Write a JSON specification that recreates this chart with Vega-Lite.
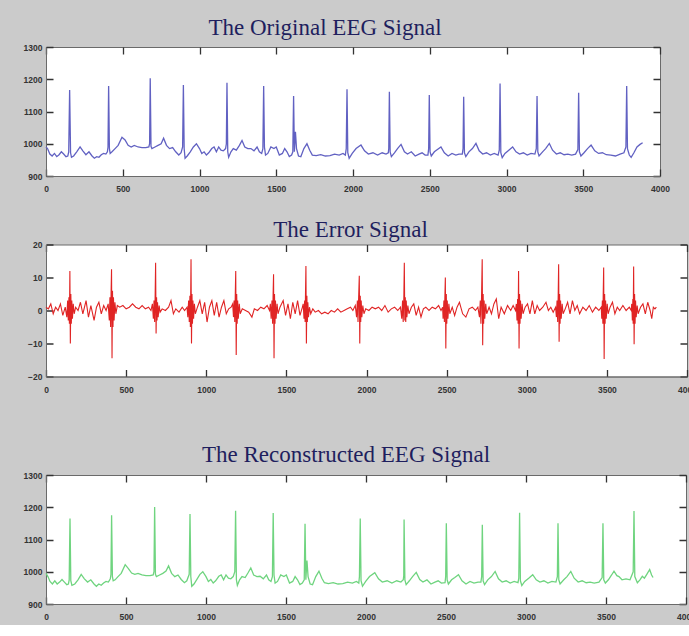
{
  "$schema": "https://vega.github.io/schema/vega-lite/v6.json",
  "background": "#cbcbcb",
  "padding": {"left": 18, "top": 16, "right": 0, "bottom": 0},
  "spacing": 20.5,
  "datasets": {
    "orig": [
      {"x":0,"y":990},{"x":10,"y":985},{"x":25,"y":968},{"x":40,"y":962},{"x":55,"y":970},{"x":70,"y":960},{"x":85,"y":966},{"x":100,"y":975},{"x":115,"y":968},{"x":130,"y":960},{"x":142,"y":962},{"x":148,"y":975},{"x":154,"y":1167},{"x":160,"y":972},{"x":166,"y":958},{"x":180,"y":962},{"x":200,"y":975},{"x":222,"y":990},{"x":240,"y":978},{"x":260,"y":966},{"x":280,"y":975},{"x":300,"y":962},{"x":315,"y":955},{"x":330,"y":960},{"x":345,"y":958},{"x":360,"y":966},{"x":375,"y":970},{"x":390,"y":968},{"x":400,"y":975},{"x":404,"y":990},{"x":408,"y":1179},{"x":413,"y":985},{"x":418,"y":970},{"x":430,"y":975},{"x":450,"y":985},{"x":470,"y":995},{"x":495,"y":1020},{"x":515,"y":1012},{"x":535,"y":995},{"x":555,"y":990},{"x":575,"y":995},{"x":600,"y":990},{"x":625,"y":988},{"x":650,"y":988},{"x":670,"y":990},{"x":675,"y":1000},{"x":679,"y":1203},{"x":684,"y":992},{"x":690,"y":985},{"x":710,"y":990},{"x":730,"y":995},{"x":750,"y":1000},{"x":766,"y":1017},{"x":785,"y":995},{"x":805,"y":985},{"x":825,"y":988},{"x":845,"y":975},{"x":865,"y":965},{"x":880,"y":972},{"x":890,"y":990},{"x":895,"y":1182},{"x":900,"y":985},{"x":906,"y":955},{"x":920,"y":962},{"x":940,"y":975},{"x":960,"y":990},{"x":980,"y":1000},{"x":1000,"y":985},{"x":1015,"y":970},{"x":1030,"y":975},{"x":1045,"y":965},{"x":1060,"y":972},{"x":1080,"y":985},{"x":1095,"y":990},{"x":1110,"y":975},{"x":1125,"y":990},{"x":1140,"y":980},{"x":1155,"y":978},{"x":1170,"y":985},{"x":1175,"y":1000},{"x":1179,"y":1189},{"x":1184,"y":975},{"x":1190,"y":958},{"x":1205,"y":975},{"x":1220,"y":985},{"x":1240,"y":980},{"x":1260,"y":995},{"x":1277,"y":1010},{"x":1295,"y":990},{"x":1315,"y":985},{"x":1335,"y":985},{"x":1355,"y":978},{"x":1375,"y":990},{"x":1390,"y":975},{"x":1405,"y":970},{"x":1413,"y":985},{"x":1418,"y":1179},{"x":1423,"y":990},{"x":1430,"y":965},{"x":1445,"y":970},{"x":1465,"y":990},{"x":1485,"y":985},{"x":1500,"y":990},{"x":1520,"y":965},{"x":1540,"y":970},{"x":1555,"y":985},{"x":1570,"y":975},{"x":1585,"y":960},{"x":1600,"y":965},{"x":1608,"y":975},{"x":1613,"y":1148},{"x":1618,"y":975},{"x":1625,"y":1037},{"x":1632,"y":985},{"x":1645,"y":962},{"x":1660,"y":960},{"x":1680,"y":985},{"x":1700,"y":1000},{"x":1718,"y":980},{"x":1735,"y":965},{"x":1760,"y":963},{"x":1790,"y":966},{"x":1820,"y":962},{"x":1850,"y":963},{"x":1880,"y":968},{"x":1910,"y":965},{"x":1935,"y":970},{"x":1950,"y":965},{"x":1956,"y":985},{"x":1961,"y":1169},{"x":1966,"y":972},{"x":1975,"y":955},{"x":1995,"y":970},{"x":2020,"y":985},{"x":2052,"y":996},{"x":2075,"y":978},{"x":2100,"y":968},{"x":2130,"y":972},{"x":2160,"y":965},{"x":2190,"y":972},{"x":2215,"y":968},{"x":2230,"y":972},{"x":2233,"y":985},{"x":2237,"y":1161},{"x":2242,"y":975},{"x":2250,"y":960},{"x":2270,"y":972},{"x":2290,"y":985},{"x":2313,"y":998},{"x":2335,"y":975},{"x":2355,"y":968},{"x":2380,"y":975},{"x":2405,"y":962},{"x":2430,"y":968},{"x":2450,"y":972},{"x":2470,"y":965},{"x":2488,"y":965},{"x":2493,"y":985},{"x":2497,"y":1151},{"x":2502,"y":975},{"x":2510,"y":962},{"x":2530,"y":975},{"x":2550,"y":982},{"x":2573,"y":990},{"x":2595,"y":972},{"x":2620,"y":962},{"x":2645,"y":970},{"x":2670,"y":965},{"x":2690,"y":968},{"x":2712,"y":968},{"x":2717,"y":985},{"x":2721,"y":1146},{"x":2726,"y":972},{"x":2735,"y":960},{"x":2755,"y":975},{"x":2778,"y":985},{"x":2801,"y":1001},{"x":2822,"y":978},{"x":2845,"y":968},{"x":2870,"y":972},{"x":2895,"y":965},{"x":2920,"y":970},{"x":2945,"y":965},{"x":2953,"y":980},{"x":2958,"y":1187},{"x":2963,"y":972},{"x":2972,"y":957},{"x":2990,"y":970},{"x":3015,"y":980},{"x":3040,"y":990},{"x":3062,"y":975},{"x":3085,"y":968},{"x":3110,"y":972},{"x":3135,"y":965},{"x":3160,"y":970},{"x":3185,"y":968},{"x":3194,"y":985},{"x":3199,"y":1148},{"x":3204,"y":975},{"x":3212,"y":962},{"x":3235,"y":975},{"x":3255,"y":985},{"x":3279,"y":1001},{"x":3300,"y":980},{"x":3325,"y":968},{"x":3350,"y":972},{"x":3375,"y":966},{"x":3400,"y":968},{"x":3425,"y":965},{"x":3450,"y":968},{"x":3465,"y":982},{"x":3470,"y":1158},{"x":3475,"y":975},{"x":3485,"y":962},{"x":3505,"y":972},{"x":3528,"y":985},{"x":3551,"y":996},{"x":3575,"y":978},{"x":3600,"y":970},{"x":3625,"y":972},{"x":3650,"y":966},{"x":3680,"y":965},{"x":3710,"y":962},{"x":3740,"y":968},{"x":3765,"y":972},{"x":3778,"y":990},{"x":3783,"y":1179},{"x":3788,"y":985},{"x":3800,"y":965},{"x":3812,"y":958},{"x":3830,"y":972},{"x":3850,"y":990},{"x":3870,"y":998},{"x":3887,"y":1003}
    ],
    "err": [
      {"x":0,"y":1},{"x":15,"y":0.5},{"x":30,"y":2},{"x":45,"y":-1},{"x":60,"y":1},{"x":75,"y":0},{"x":90,"y":2},{"x":105,"y":-1.5},{"x":120,"y":1},{"x":130,"y":-2},{"x":135,"y":3},{"x":139,"y":-3},{"x":143,"y":4},{"x":146,"y":-4},{"x":149,"y":12},{"x":152,"y":-10},{"x":155,"y":5},{"x":158,"y":-4},{"x":161,"y":3},{"x":165,"y":-2.5},{"x":170,"y":2},{"x":176,"y":-1},{"x":185,"y":1},{"x":200,"y":0},{"x":215,"y":2.5},{"x":230,"y":-1},{"x":250,"y":3},{"x":265,"y":-2},{"x":280,"y":1.5},{"x":300,"y":-3},{"x":315,"y":1},{"x":330,"y":2.5},{"x":345,"y":-1},{"x":360,"y":1.5},{"x":375,"y":0},{"x":388,"y":2},{"x":395,"y":-3},{"x":399,"y":4},{"x":403,"y":-5},{"x":406,"y":5},{"x":409,"y":12.5},{"x":412,"y":-14.5},{"x":415,"y":6},{"x":418,"y":-5},{"x":421,"y":4},{"x":425,"y":-3},{"x":430,"y":2.5},{"x":436,"y":-1},{"x":445,"y":1.5},{"x":460,"y":1},{"x":480,"y":1.5},{"x":500,"y":0.5},{"x":520,"y":1},{"x":540,"y":2},{"x":560,"y":1},{"x":580,"y":0.5},{"x":600,"y":1.5},{"x":620,"y":0.5},{"x":640,"y":1},{"x":655,"y":0},{"x":664,"y":2},{"x":670,"y":-2.5},{"x":674,"y":3},{"x":678,"y":-3.5},{"x":681,"y":4},{"x":684,"y":14.5},{"x":687,"y":-7},{"x":690,"y":4},{"x":693,"y":-3},{"x":696,"y":2.5},{"x":700,"y":-2},{"x":706,"y":1.5},{"x":712,"y":-0.5},{"x":725,"y":0.5},{"x":745,"y":0},{"x":765,"y":1},{"x":780,"y":3},{"x":795,"y":-1},{"x":810,"y":0.5},{"x":830,"y":-0.5},{"x":850,"y":1},{"x":865,"y":0},{"x":880,"y":1},{"x":885,"y":-2},{"x":890,"y":3},{"x":894,"y":-3.5},{"x":898,"y":4.5},{"x":901,"y":-5},{"x":905,"y":15.5},{"x":908,"y":-10},{"x":911,"y":5},{"x":914,"y":-4},{"x":917,"y":3},{"x":921,"y":-2.5},{"x":926,"y":2},{"x":932,"y":-1},{"x":945,"y":1},{"x":960,"y":3},{"x":975,"y":-1},{"x":990,"y":2.5},{"x":1005,"y":-3.5},{"x":1020,"y":1},{"x":1035,"y":3},{"x":1050,"y":-1.5},{"x":1065,"y":2.5},{"x":1080,"y":-2},{"x":1095,"y":1},{"x":1110,"y":3},{"x":1125,"y":-1},{"x":1140,"y":0.5},{"x":1155,"y":1},{"x":1165,"y":2},{"x":1170,"y":-2},{"x":1174,"y":3},{"x":1178,"y":-3.5},{"x":1181,"y":4.5},{"x":1184,"y":12},{"x":1187,"y":-13.5},{"x":1190,"y":5},{"x":1193,"y":-4},{"x":1196,"y":3},{"x":1200,"y":-2.5},{"x":1206,"y":2},{"x":1212,"y":-1},{"x":1225,"y":0.5},{"x":1245,"y":0},{"x":1265,"y":-0.5},{"x":1285,"y":-2},{"x":1300,"y":0.5},{"x":1320,"y":0},{"x":1340,"y":1},{"x":1360,"y":0.5},{"x":1380,"y":1.5},{"x":1395,"y":0},{"x":1400,"y":2},{"x":1405,"y":-2.5},{"x":1410,"y":3},{"x":1414,"y":-4},{"x":1417,"y":4.5},{"x":1420,"y":11},{"x":1423,"y":-14.5},{"x":1426,"y":5},{"x":1429,"y":-4},{"x":1432,"y":3},{"x":1436,"y":-2.5},{"x":1442,"y":2},{"x":1448,"y":-1},{"x":1460,"y":1},{"x":1480,"y":3},{"x":1495,"y":-1.5},{"x":1510,"y":2},{"x":1525,"y":-2.5},{"x":1540,"y":2.5},{"x":1555,"y":-1},{"x":1570,"y":3},{"x":1585,"y":-1.5},{"x":1600,"y":1},{"x":1605,"y":2},{"x":1610,"y":-2.5},{"x":1614,"y":3},{"x":1617,"y":-3.5},{"x":1619,"y":4},{"x":1622,"y":13.5},{"x":1625,"y":-10},{"x":1628,"y":4.5},{"x":1631,"y":-3.5},{"x":1634,"y":2.5},{"x":1638,"y":-2},{"x":1644,"y":1},{"x":1652,"y":-1},{"x":1665,"y":0.5},{"x":1680,"y":-0.5},{"x":1700,"y":0},{"x":1720,"y":-1},{"x":1740,"y":-0.5},{"x":1760,"y":-1},{"x":1780,"y":0},{"x":1800,"y":-0.5},{"x":1820,"y":0.5},{"x":1840,"y":-0.5},{"x":1860,"y":0},{"x":1880,"y":0.5},{"x":1900,"y":1},{"x":1915,"y":0},{"x":1930,"y":1.5},{"x":1938,"y":-2},{"x":1943,"y":3},{"x":1947,"y":-3.5},{"x":1951,"y":4},{"x":1955,"y":10.5},{"x":1958,"y":-10},{"x":1961,"y":4.5},{"x":1964,"y":-3.5},{"x":1967,"y":3},{"x":1971,"y":-2},{"x":1977,"y":1.5},{"x":1984,"y":-1},{"x":1995,"y":0.5},{"x":2015,"y":0},{"x":2035,"y":1},{"x":2055,"y":0.5},{"x":2075,"y":1},{"x":2095,"y":0},{"x":2115,"y":1.5},{"x":2135,"y":-0.5},{"x":2155,"y":0.5},{"x":2175,"y":1},{"x":2195,"y":0},{"x":2212,"y":1},{"x":2220,"y":-2.5},{"x":2225,"y":3},{"x":2229,"y":-3.5},{"x":2233,"y":4},{"x":2236,"y":14.5},{"x":2239,"y":-3},{"x":2242,"y":4},{"x":2245,"y":-3.5},{"x":2248,"y":3},{"x":2252,"y":-2},{"x":2258,"y":1.5},{"x":2265,"y":-1},{"x":2280,"y":1},{"x":2295,"y":2},{"x":2310,"y":-1.5},{"x":2325,"y":1},{"x":2340,"y":-2},{"x":2355,"y":0.5},{"x":2370,"y":1},{"x":2390,"y":0},{"x":2410,"y":1},{"x":2430,"y":0.5},{"x":2450,"y":1.5},{"x":2465,"y":0},{"x":2475,"y":1},{"x":2478,"y":-2.5},{"x":2483,"y":3},{"x":2486,"y":-3.5},{"x":2489,"y":4},{"x":2492,"y":10},{"x":2495,"y":-11.5},{"x":2498,"y":5},{"x":2501,"y":-4},{"x":2504,"y":3},{"x":2508,"y":-2.5},{"x":2514,"y":2},{"x":2520,"y":-1},{"x":2535,"y":1},{"x":2550,"y":-1.5},{"x":2565,"y":1},{"x":2580,"y":2.5},{"x":2600,"y":-1},{"x":2620,"y":-2},{"x":2640,"y":0.5},{"x":2660,"y":1},{"x":2680,"y":0},{"x":2695,"y":1},{"x":2705,"y":-2},{"x":2710,"y":3},{"x":2714,"y":-4},{"x":2718,"y":4.5},{"x":2722,"y":15.5},{"x":2725,"y":-10.5},{"x":2728,"y":5},{"x":2731,"y":-4},{"x":2734,"y":3},{"x":2738,"y":-2.5},{"x":2744,"y":2},{"x":2750,"y":-1},{"x":2765,"y":1},{"x":2780,"y":-1},{"x":2795,"y":2},{"x":2810,"y":3.5},{"x":2825,"y":-2.5},{"x":2840,"y":1},{"x":2860,"y":-1},{"x":2880,"y":1.5},{"x":2900,"y":0},{"x":2915,"y":1.5},{"x":2930,"y":0},{"x":2935,"y":2},{"x":2939,"y":-3},{"x":2943,"y":3.5},{"x":2946,"y":-4},{"x":2949,"y":12},{"x":2952,"y":-11.5},{"x":2955,"y":5},{"x":2958,"y":-4},{"x":2961,"y":3},{"x":2965,"y":-2.5},{"x":2971,"y":2},{"x":2977,"y":-1},{"x":2990,"y":1},{"x":3005,"y":2},{"x":3020,"y":-1},{"x":3035,"y":3},{"x":3050,"y":-1},{"x":3065,"y":1.5},{"x":3080,"y":0},{"x":3100,"y":1},{"x":3120,"y":2.5},{"x":3135,"y":0},{"x":3150,"y":1},{"x":3165,"y":-0.5},{"x":3180,"y":1},{"x":3185,"y":-2},{"x":3189,"y":3},{"x":3193,"y":-3.5},{"x":3196,"y":4},{"x":3199,"y":14},{"x":3202,"y":-9.5},{"x":3205,"y":5},{"x":3208,"y":-4},{"x":3211,"y":3},{"x":3215,"y":-2.5},{"x":3221,"y":2},{"x":3227,"y":-1},{"x":3240,"y":0.5},{"x":3255,"y":2.5},{"x":3270,"y":-1},{"x":3285,"y":3},{"x":3300,"y":0},{"x":3315,"y":1.5},{"x":3330,"y":-1},{"x":3350,"y":1},{"x":3370,"y":0},{"x":3390,"y":1.5},{"x":3410,"y":-0.5},{"x":3430,"y":1},{"x":3450,"y":0},{"x":3465,"y":1},{"x":3468,"y":-2.5},{"x":3472,"y":3},{"x":3475,"y":-4},{"x":3477,"y":4.5},{"x":3480,"y":13},{"x":3483,"y":-14.7},{"x":3486,"y":5},{"x":3489,"y":-4},{"x":3492,"y":3},{"x":3496,"y":-2.5},{"x":3502,"y":2},{"x":3508,"y":-1},{"x":3520,"y":1},{"x":3535,"y":2.5},{"x":3550,"y":-1},{"x":3565,"y":1},{"x":3580,"y":0},{"x":3600,"y":1.5},{"x":3620,"y":0},{"x":3640,"y":1},{"x":3652,"y":0},{"x":3655,"y":2},{"x":3659,"y":-3},{"x":3662,"y":3.5},{"x":3664,"y":-4},{"x":3667,"y":13.3},{"x":3670,"y":-10.2},{"x":3673,"y":5},{"x":3676,"y":-4},{"x":3679,"y":3},{"x":3683,"y":-2},{"x":3689,"y":1.5},{"x":3695,"y":-1},{"x":3710,"y":1},{"x":3725,"y":2},{"x":3740,"y":-1},{"x":3755,"y":2.5},{"x":3770,"y":0},{"x":3780,"y":-2.5},{"x":3790,"y":1},{"x":3800,"y":0.5},{"x":3809,"y":1}
    ],
    "recon": [
      {"x":0,"y":995},{"x":12,"y":985},{"x":25,"y":970},{"x":40,"y":962},{"x":55,"y":972},{"x":70,"y":962},{"x":85,"y":968},{"x":100,"y":976},{"x":115,"y":968},{"x":130,"y":960},{"x":140,"y":962},{"x":145,"y":975},{"x":150,"y":1165},{"x":155,"y":972},{"x":162,"y":958},{"x":180,"y":962},{"x":200,"y":975},{"x":220,"y":992},{"x":240,"y":978},{"x":260,"y":968},{"x":280,"y":975},{"x":300,"y":962},{"x":315,"y":955},{"x":330,"y":962},{"x":345,"y":958},{"x":360,"y":965},{"x":375,"y":970},{"x":390,"y":968},{"x":402,"y":978},{"x":406,"y":992},{"x":410,"y":1175},{"x":415,"y":985},{"x":420,"y":972},{"x":432,"y":975},{"x":450,"y":985},{"x":470,"y":995},{"x":495,"y":1022},{"x":515,"y":1010},{"x":535,"y":996},{"x":555,"y":992},{"x":575,"y":995},{"x":600,"y":990},{"x":625,"y":988},{"x":650,"y":988},{"x":670,"y":990},{"x":675,"y":1000},{"x":679,"y":1201},{"x":684,"y":992},{"x":690,"y":985},{"x":710,"y":990},{"x":730,"y":995},{"x":750,"y":1002},{"x":766,"y":1018},{"x":785,"y":995},{"x":805,"y":985},{"x":825,"y":990},{"x":845,"y":976},{"x":865,"y":966},{"x":880,"y":972},{"x":895,"y":992},{"x":900,"y":1179},{"x":905,"y":985},{"x":911,"y":955},{"x":925,"y":962},{"x":945,"y":978},{"x":962,"y":992},{"x":980,"y":1000},{"x":1000,"y":985},{"x":1015,"y":970},{"x":1030,"y":976},{"x":1045,"y":965},{"x":1060,"y":972},{"x":1080,"y":986},{"x":1095,"y":990},{"x":1110,"y":975},{"x":1125,"y":990},{"x":1140,"y":980},{"x":1155,"y":978},{"x":1170,"y":985},{"x":1180,"y":1000},{"x":1185,"y":1189},{"x":1190,"y":975},{"x":1196,"y":958},{"x":1210,"y":975},{"x":1225,"y":985},{"x":1245,"y":982},{"x":1262,"y":996},{"x":1280,"y":1012},{"x":1298,"y":990},{"x":1318,"y":985},{"x":1338,"y":986},{"x":1358,"y":978},{"x":1378,"y":990},{"x":1392,"y":975},{"x":1406,"y":970},{"x":1415,"y":985},{"x":1420,"y":1182},{"x":1425,"y":990},{"x":1432,"y":965},{"x":1447,"y":970},{"x":1467,"y":990},{"x":1487,"y":985},{"x":1502,"y":990},{"x":1522,"y":965},{"x":1542,"y":970},{"x":1557,"y":985},{"x":1572,"y":975},{"x":1587,"y":960},{"x":1602,"y":965},{"x":1614,"y":975},{"x":1619,"y":1149},{"x":1624,"y":975},{"x":1631,"y":1035},{"x":1638,"y":985},{"x":1651,"y":962},{"x":1666,"y":960},{"x":1686,"y":985},{"x":1706,"y":1002},{"x":1724,"y":980},{"x":1740,"y":966},{"x":1765,"y":963},{"x":1795,"y":966},{"x":1825,"y":962},{"x":1855,"y":963},{"x":1885,"y":968},{"x":1915,"y":965},{"x":1940,"y":970},{"x":1955,"y":965},{"x":1959,"y":985},{"x":1964,"y":1165},{"x":1969,"y":972},{"x":1978,"y":955},{"x":1998,"y":970},{"x":2022,"y":985},{"x":2055,"y":997},{"x":2078,"y":978},{"x":2102,"y":968},{"x":2132,"y":972},{"x":2162,"y":965},{"x":2192,"y":972},{"x":2218,"y":968},{"x":2233,"y":975},{"x":2236,"y":988},{"x":2238,"y":1162},{"x":2243,"y":975},{"x":2251,"y":960},{"x":2271,"y":972},{"x":2291,"y":985},{"x":2314,"y":998},{"x":2336,"y":976},{"x":2356,"y":968},{"x":2381,"y":975},{"x":2406,"y":962},{"x":2431,"y":968},{"x":2451,"y":972},{"x":2471,"y":965},{"x":2494,"y":966},{"x":2498,"y":985},{"x":2502,"y":1150},{"x":2507,"y":975},{"x":2515,"y":962},{"x":2535,"y":975},{"x":2555,"y":982},{"x":2578,"y":991},{"x":2600,"y":972},{"x":2625,"y":962},{"x":2650,"y":970},{"x":2675,"y":965},{"x":2700,"y":968},{"x":2718,"y":968},{"x":2723,"y":985},{"x":2727,"y":1146},{"x":2732,"y":972},{"x":2741,"y":960},{"x":2761,"y":975},{"x":2784,"y":985},{"x":2807,"y":1001},{"x":2828,"y":978},{"x":2851,"y":968},{"x":2876,"y":972},{"x":2901,"y":965},{"x":2926,"y":970},{"x":2950,"y":966},{"x":2955,"y":980},{"x":2960,"y":1183},{"x":2965,"y":972},{"x":2974,"y":957},{"x":2992,"y":970},{"x":3017,"y":980},{"x":3042,"y":991},{"x":3064,"y":975},{"x":3087,"y":968},{"x":3112,"y":972},{"x":3137,"y":965},{"x":3162,"y":970},{"x":3187,"y":968},{"x":3196,"y":985},{"x":3200,"y":1150},{"x":3205,"y":975},{"x":3213,"y":962},{"x":3236,"y":975},{"x":3256,"y":985},{"x":3280,"y":1001},{"x":3301,"y":980},{"x":3326,"y":968},{"x":3351,"y":972},{"x":3376,"y":966},{"x":3401,"y":968},{"x":3426,"y":965},{"x":3456,"y":968},{"x":3476,"y":982},{"x":3481,"y":1150},{"x":3486,"y":975},{"x":3496,"y":965},{"x":3515,"y":975},{"x":3535,"y":990},{"x":3550,"y":1002},{"x":3568,"y":988},{"x":3581,"y":985},{"x":3600,"y":975},{"x":3625,"y":978},{"x":3650,"y":975},{"x":3662,"y":990},{"x":3670,"y":1000},{"x":3675,"y":1188},{"x":3680,"y":985},{"x":3696,"y":966},{"x":3712,"y":975},{"x":3727,"y":986},{"x":3740,"y":980},{"x":3755,"y":992},{"x":3773,"y":1007},{"x":3785,"y":990},{"x":3794,"y":982}
    ]
  },
  "vconcat": [
    {
      "width": 614,
      "height": 129,
      "title": {"text": "The Original EEG Signal", "offset": 3, "dx": -28},
      "data": {"name": "orig"},
      "mark": {"type": "line", "color": "#6161c2", "strokeWidth": 1.3},
      "encoding": {
        "x": {"field": "x", "type": "quantitative", "scale": {"domain": [0, 4000], "nice": false}, "axis": {"title": null, "format": "d", "values": [0,500,1000,1500,2000,2500,3000,3500,4000], "ticks": false, "grid": true, "gridColor": "#333333", "gridWidth": 1.3, "gridOpacity": 1, "gridDash": [7, 115, 7, 2000], "minExtent": 20, "maxExtent": 20}},
        "y": {"field": "y", "type": "quantitative", "scale": {"domain": [900, 1300], "nice": false, "zero": false}, "axis": {"title": null, "format": "d", "values": [900,1000,1100,1200,1300], "ticks": false, "grid": true, "gridColor": "#333333", "gridWidth": 1.3, "gridOpacity": 1, "gridDash": [7, 600, 7, 2000], "minExtent": 27}}
      }
    },
    {
      "width": 641,
      "height": 132,
      "title": {"text": "The Error Signal", "offset": -1.2, "dx": -16},
      "data": {"name": "err"},
      "mark": {"type": "line", "color": "#e02424", "strokeWidth": 1.1},
      "encoding": {
        "x": {"field": "x", "type": "quantitative", "scale": {"domain": [0, 4000], "nice": false}, "axis": {"title": null, "format": "d", "values": [0,500,1000,1500,2000,2500,3000,3500,4000], "ticks": false, "grid": true, "gridColor": "#333333", "gridWidth": 1.3, "gridOpacity": 1, "gridDash": [7, 118, 7, 2000], "minExtent": 45, "maxExtent": 45}},
        "y": {"field": "y", "type": "quantitative", "scale": {"domain": [-20, 20], "nice": false, "zero": false}, "axis": {"title": null, "format": "d", "values": [-20,-10,0,10,20], "ticks": false, "grid": true, "gridColor": "#333333", "gridWidth": 1.3, "gridOpacity": 1, "gridDash": [7, 627, 7, 2000], "minExtent": 27}}
      }
    },
    {
      "width": 640,
      "height": 129,
      "title": {"text": "The Reconstructed EEG Signal", "offset": 3.8, "dx": -20},
      "data": {"name": "recon"},
      "mark": {"type": "line", "color": "#6fd47f", "strokeWidth": 1.3},
      "encoding": {
        "x": {"field": "x", "type": "quantitative", "scale": {"domain": [0, 4000], "nice": false}, "axis": {"title": null, "format": "d", "values": [0,500,1000,1500,2000,2500,3000,3500,4000], "ticks": false, "grid": true, "gridColor": "#333333", "gridWidth": 1.3, "gridOpacity": 1, "gridDash": [7, 115, 7, 2000], "minExtent": 20, "maxExtent": 20}},
        "y": {"field": "y", "type": "quantitative", "scale": {"domain": [900, 1300], "nice": false, "zero": false}, "axis": {"title": null, "format": "d", "values": [900,1000,1100,1200,1300], "ticks": false, "grid": true, "gridColor": "#333333", "gridWidth": 1.3, "gridOpacity": 1, "gridDash": [7, 626, 7, 2000], "minExtent": 27}}
      }
    }
  ],
  "config": {
    "view": {"fill": "white", "stroke": "#6a6a6a", "strokeWidth": 1},
    "title": {"font": "Liberation Serif", "fontSize": 23, "fontWeight": "normal", "color": "#1f1f5e", "baseline": "alphabetic", "anchor": "middle"},
    "axis": {"domainColor": "#6a6a6a", "labelFont": "Liberation Sans", "labelFontSize": 8.5, "labelFontWeight": "bold", "labelColor": "#333333", "labelFlush": false},
    "axisX": {"labelPadding": 8.5},
    "axisY": {"labelPadding": 4}
  }
}
